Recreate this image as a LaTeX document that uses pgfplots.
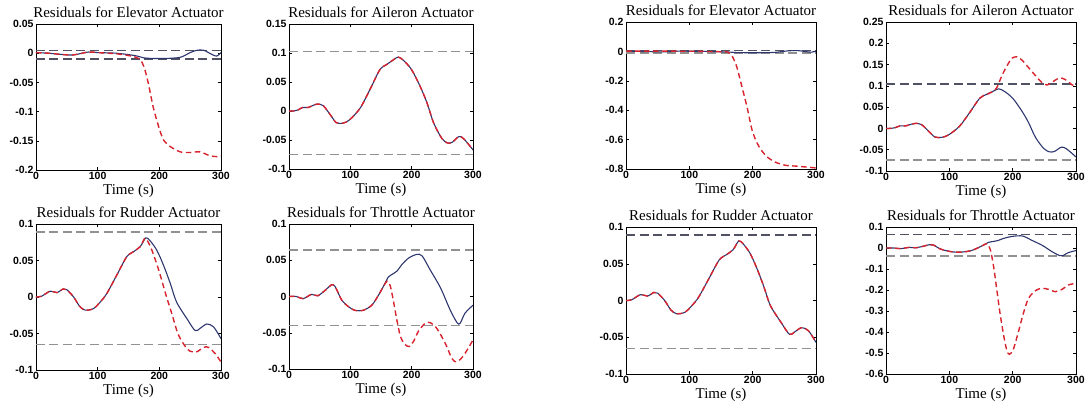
\documentclass[border=0pt]{standalone}
\usepackage{fontspec}
\setmainfont{Liberation Serif}
\setsansfont{Liberation Sans}
\usepackage{pgfplots}
\usepackage{pgfplotstable}
\pgfplotsset{compat=1.18}

\definecolor{resblue}{RGB}{45,55,110}
\definecolor{resred}{RGB}{215,35,45}
\definecolor{thrdark}{RGB}{80,82,100}
\definecolor{thrlight}{RGB}{145,145,145}

% Aileron residual (no-fault / shared)
\pgfplotstableread{
t r
0 0
7 0.000
15 0.002
22 0.006
31 0.006
40 0.010
47 0.012
56 0.009
67 -0.006
77 -0.020
88 -0.021
99 -0.015
116 0.005
132 0.037
148 0.071
159 0.080
170 0.088
178 0.093
187 0.087
200 0.071
214 0.042
225 0.014
236 -0.021
249 -0.047
258 -0.055
266 -0.054
277 -0.044
285 -0.048
300 -0.067
}\ailA
\pgfplotstableread{
t r
0 0
7 0.000
15 0.002
22 0.006
31 0.006
40 0.010
47 0.012
56 0.009
67 -0.006
77 -0.020
88 -0.021
99 -0.015
116 0.005
132 0.037
148 0.071
159 0.080
168 0.086
175 0.096
183 0.124
191 0.147
199 0.165
207 0.168
215 0.160
225 0.143
236 0.124
246 0.108
254 0.102
262 0.108
270 0.116
278 0.118
286 0.112
294 0.102
300 0.100
}\ailF
% Rudder
\pgfplotstableread{
t r
0 0
9 0.001
23 0.008
34 0.006
44 0.011
50 0.010
61 0.000
71 -0.013
80 -0.018
93 -0.016
104 -0.007
115 0.005
131 0.030
147 0.055
158 0.062
169 0.069
178 0.081
185 0.077
196 0.064
207 0.043
218 0.018
228 -0.007
245 -0.030
258 -0.046
266 -0.043
277 -0.037
288 -0.041
300 -0.057
}\rudA
\pgfplotstableread{
t r
0 0
9 0.001
23 0.008
34 0.006
44 0.011
50 0.010
61 0.000
71 -0.013
80 -0.018
93 -0.016
104 -0.007
115 0.005
131 0.030
147 0.055
158 0.062
169 0.069
176 0.080
180 0.078
188 0.064
199 0.037
210 0.005
221 -0.025
231 -0.052
245 -0.071
253 -0.075
261 -0.075
272 -0.069
280 -0.069
291 -0.078
300 -0.089
}\rudF
% Throttle
\pgfplotstableread{
t r
0 0
12 0
23 -0.003
37 0.003
47 0.001
61 0.010
69 0.016
75 0.014
86 -0.005
97 -0.014
107 -0.019
121 -0.019
135 -0.012
146 0.002
154 0.014
162 0.027
167 0.030
176 0.035
184 0.044
195 0.053
208 0.058
217 0.056
230 0.037
247 0.012
263 -0.019
274 -0.036
279 -0.037
287 -0.023
300 -0.012
}\thrA
\pgfplotstableread{
t r
0 0
12 0
23 -0.003
37 0.003
47 0.001
61 0.010
69 0.016
75 0.014
86 -0.005
97 -0.014
107 -0.019
121 -0.019
135 -0.012
146 0.002
154 0.014
160 0.021
165 0.015
170 -0.005
176 -0.033
182 -0.056
189 -0.066
196 -0.069
203 -0.062
211 -0.048
222 -0.037
230 -0.036
241 -0.044
255 -0.065
266 -0.086
274 -0.090
285 -0.081
300 -0.060
}\thrF
\pgfplotstableread{
t r
0 0
12 0
23 -0.003
37 0.003
47 0.001
61 0.010
69 0.016
75 0.014
86 -0.005
97 -0.014
107 -0.019
121 -0.019
135 -0.012
146 0.002
154 0.014
160 0.020
165 -0.011
170 -0.09
175 -0.20
180 -0.31
186 -0.42
191 -0.49
195 -0.506
201 -0.483
209 -0.40
217 -0.31
225 -0.24
236 -0.203
246 -0.192
257 -0.197
267 -0.208
278 -0.197
288 -0.176
300 -0.168
}\thrG
% Elevator
\pgfplotstableread{
t r
0 0.001
20 0.000
40 -0.002
60 -0.003
85 0.002
100 0.001
130 0.000
160 -0.004
175 -0.008
190 -0.009
210 -0.009
234 -0.007
250 0.001
261 0.005
272 0.005
285 -0.002
293 -0.005
300 0.001
}\eleA
\pgfplotstableread{
t r
0 0.001
20 0.000
40 -0.002
60 -0.003
85 0.002
100 0.001
130 -0.001
155 -0.005
168 -0.010
175 -0.023
182 -0.051
190 -0.092
199 -0.126
207 -0.149
218 -0.160
234 -0.169
250 -0.170
266 -0.169
283 -0.176
296 -0.177
300 -0.176
}\eleF
\pgfplotstableread{
t r
0 0.002
100 0.001
155 -0.003
162 -0.008
167 -0.027
175 -0.106
183 -0.24
191 -0.376
199 -0.534
207 -0.624
215 -0.68
225 -0.725
236 -0.754
252 -0.775
267 -0.780
283 -0.786
300 -0.793
}\eleG

\pgfplotsset{
  resid/.style={
    scale only axis, anchor=south west,
    xmin=0, xmax=300, xtick={0,100,200,300},
    tick align=inside, major tick length=3pt,
    ticklabel style={font=\sffamily\bfseries\fontsize{10.5}{12}\selectfont},
    /pgf/number format/assume math mode=true,
    /pgf/number format/fixed,
    scaled y ticks=false,
    title style={font=\fontsize{15}{17}\selectfont, yshift=-3pt},
    xlabel={Time (s)},
    xlabel style={font=\fontsize{15}{17}\selectfont, yshift=3pt},
    xticklabel style={yshift=1pt},
    yticklabel style={xshift=1pt},
    axis line style={line width=0.7pt},
    every tick/.style={black, line width=0.5pt},
  },
  blueline/.style={resblue, line width=1.1pt, smooth, tension=0.5},
  redline/.style={resred, line width=1.4pt, dash pattern=on 5.5pt off 3.5pt, smooth, tension=0.5},
  thrU/.style={thrdark, line width=1.4pt, dash pattern=on 9pt off 4.5pt},
  thrL/.style={thrlight, line width=1.4pt, dash pattern=on 9pt off 4.5pt},
}

\begin{document}
\begin{tikzpicture}
\useasboundingbox (0,0) rectangle (1085pt,408pt);

% ---- Left group ----
\begin{axis}[resid, at={(36pt,238pt)}, width=185pt, height=146pt,
  title={Residuals for Elevator Actuator},
  ymin=-0.2, ymax=0.05, ytick={-0.2,-0.15,-0.1,-0.05,0,0.05}]
\addplot[thrU] coordinates {(0,0.005) (300,0.005)};
\addplot[thrU] coordinates {(0,-0.01) (300,-0.01)};
\addplot[blueline] table[x=t,y=r] {\eleA};
\addplot[redline] table[x=t,y=r] {\eleF};
\end{axis}

\begin{axis}[resid, at={(289pt,239pt)}, width=184pt, height=145pt,
  title={Residuals for Aileron Actuator},
  ymin=-0.1, ymax=0.15, ytick={-0.1,-0.05,0,0.05,0.1,0.15}]
\addplot[thrL] coordinates {(0,0.103) (300,0.103)};
\addplot[thrL] coordinates {(0,-0.075) (300,-0.075)};
\addplot[blueline] table[x=t,y=r] {\ailA};
\addplot[redline] table[x=t,y=r] {\ailA};
\end{axis}

\begin{axis}[resid, at={(36pt,38pt)}, width=185pt, height=146pt,
  title={Residuals for Rudder Actuator},
  ymin=-0.1, ymax=0.1, ytick={-0.1,-0.05,0,0.05,0.1}]
\addplot[thrL] coordinates {(0,0.089) (300,0.089)};
\addplot[thrL] coordinates {(0,-0.065) (300,-0.065)};
\addplot[blueline] table[x=t,y=r] {\rudA};
\addplot[redline] table[x=t,y=r] {\rudF};
\end{axis}

\begin{axis}[resid, at={(289pt,39pt)}, width=184pt, height=145pt,
  title={Residuals for Throttle Actuator},
  ymin=-0.1, ymax=0.1, ytick={-0.1,-0.05,0,0.05,0.1}]
\addplot[thrL] coordinates {(0,0.064) (300,0.064)};
\addplot[thrL] coordinates {(0,-0.04) (300,-0.04)};
\addplot[blueline] table[x=t,y=r] {\thrA};
\addplot[redline] table[x=t,y=r] {\thrF};
\end{axis}

% ---- Right group ----
\begin{axis}[resid, at={(626pt,239pt)}, width=190pt, height=147pt,
  title={Residuals for Elevator Actuator},
  ymin=-0.8, ymax=0.2, ytick={-0.8,-0.6,-0.4,-0.2,0,0.2}]
\addplot[thrU] coordinates {(0,0.005) (300,0.005)};
\addplot[thrL] coordinates {(0,-0.01) (300,-0.01)};
\addplot[blueline] table[x=t,y=r] {\eleA};
\addplot[redline] table[x=t,y=r] {\eleG};
\end{axis}

\begin{axis}[resid, at={(886pt,237pt)}, width=190pt, height=149pt,
  title={Residuals for Aileron Actuator},
  ymin=-0.1, ymax=0.25, ytick={-0.1,-0.05,0,0.05,0.1,0.15,0.2,0.25}]
\addplot[thrU] coordinates {(0,0.104) (300,0.104)};
\addplot[thrL] coordinates {(0,-0.074) (300,-0.074)};
\addplot[blueline] table[x=t,y=r] {\ailA};
\addplot[redline] table[x=t,y=r] {\ailF};
\end{axis}

\begin{axis}[resid, at={(626pt,34pt)}, width=190pt, height=147pt,
  title={Residuals for Rudder Actuator},
  ymin=-0.1, ymax=0.1, ytick={-0.1,-0.05,0,0.05,0.1}]
\addplot[thrU] coordinates {(0,0.089) (300,0.089)};
\addplot[thrL] coordinates {(0,-0.065) (300,-0.065)};
\addplot[blueline] table[x=t,y=r] {\rudA};
\addplot[redline] table[x=t,y=r] {\rudA};
\end{axis}

\begin{axis}[resid, at={(886pt,34pt)}, width=190pt, height=147pt,
  title={Residuals for Throttle Actuator},
  ymin=-0.6, ymax=0.1, ytick={-0.6,-0.5,-0.4,-0.3,-0.2,-0.1,0,0.1}]
\addplot[thrU] coordinates {(0,0.064) (300,0.064)};
\addplot[thrL] coordinates {(0,-0.038) (300,-0.038)};
\addplot[blueline] table[x=t,y=r] {\thrA};
\addplot[redline] table[x=t,y=r] {\thrG};
\end{axis}
\end{tikzpicture}
\end{document}
